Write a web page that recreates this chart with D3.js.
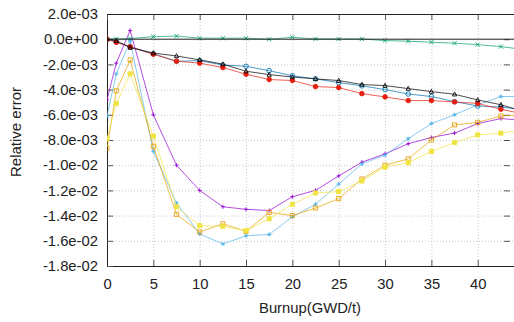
<!DOCTYPE html>
<html>
<head>
<meta charset="utf-8">
<script src="https://cdn.jsdelivr.net/npm/d3@7"></script>
<style>
  body { margin: 0; background: #fff; }
  svg { display: block; font-family: "Liberation Sans", Arial, sans-serif; }
  .grid line { stroke: #c8c8c8; stroke-dasharray: 1,2; }
</style>
</head>
<body>
<div id="chart"></div>
<script>
var burnup = [0, 1, 2.5, 5, 7.5, 10, 12.5, 15, 17.5, 20, 22.5, 25, 27.5, 30, 32.5, 35, 37.5, 40, 42.5, 45];

// values in units of 1e-3
var purple = [-4.8, -1.9, 0.7, -6.0, -10.0, -12.0, -13.3, -13.5, -13.6, -12.5, -12.0, -10.85, -9.76, -9.1, -8.3, -7.8, -7.45, -6.7, -6.3, -6.45];
var teal = [0, 0.02, 0.05, 0.2, 0.25, 0.08, 0.08, 0.08, 0, 0.15, 0.02, 0.02, 0.02, -0.11, -0.16, -0.24, -0.32, -0.43, -0.59, -0.82];
var skyblue = [-6.1, -2.75, -0.15, -8.9, -13.0, -15.45, -16.25, -15.6, -15.5, -14.1, -13.1, -11.5, -9.9, -9.2, -7.9, -6.7, -6.0, -5.2, -4.55, -4.55];
var orange = [-8.65, -4.1, -1.65, -8.5, -13.9, -15.3, -14.65, -15.25, -13.75, -14.0, -13.4, -12.65, -11.1, -10.0, -9.5, -8.0, -6.8, -6.6, -6.1, -6.0];
var yellow = [-7.9, -5.1, -2.75, -7.7, -13.3, -14.8, -14.85, -15.2, -14.25, -13.1, -12.2, -12.1, -11.25, -10.15, -9.8, -8.9, -8.2, -7.6, -7.45, -7.2];
var blue = [0, -0.2, -0.6, -1.15, -1.75, -1.7, -2.05, -2.15, -2.5, -2.9, -3.15, -3.45, -3.7, -4.0, -4.35, -4.55, -4.95, -5.3, -5.38, -5.6];
var red = [0, -0.25, -0.6, -1.2, -1.75, -1.9, -2.25, -2.78, -3.2, -3.28, -3.76, -3.84, -4.32, -4.58, -4.87, -4.87, -4.98, -5.1, -5.56, -5.95];
var black = [0, -0.12, -0.67, -1.1, -1.33, -1.64, -1.98, -2.54, -2.81, -3.0, -3.15, -3.28, -3.6, -3.68, -3.92, -4.16, -4.37, -4.82, -5.2, -5.75];

var xTicks = [0, 5, 10, 15, 20, 25, 30, 35, 40];
var yTicks = [0.002, 0, -0.002, -0.004, -0.006, -0.008, -0.01, -0.012, -0.014, -0.016, -0.018];

var series = [
  { vals: purple, color: "#9400d3", pt: "plus" },
  { vals: teal, color: "#009e73", pt: "cross" },
  { vals: skyblue, color: "#56b4e9", pt: "star" },
  { vals: orange, color: "#e69f00", pt: "osquare" },
  { vals: yellow, color: "#f0e442", pt: "fsquare" },
  { vals: blue, color: "#0072b2", pt: "ocircle" },
  { vals: red, color: "#e51e10", pt: "fcircle" },
  { vals: black, color: "#000000", pt: "otri" }
];

var width = 514, height = 322,
    pLeft = 107, pTop = 14, pRight = 514.8, pBottom = 266;

var svg = d3.select("#chart").append("svg")
    .attr("width", width)
    .attr("height", height);

var x = d3.scaleLinear().domain([0, 44]).range([pLeft, pRight]);
var y = d3.scaleLinear().domain([-0.018, 0.002]).range([pBottom, pTop]);

svg.append("clipPath").attr("id", "clip")
  .append("rect")
    .attr("x", pLeft).attr("y", pTop - 5)
    .attr("width", pRight - pLeft).attr("height", pBottom - pTop + 5);

// grid
svg.append("g")
    .attr("class", "grid")
    .attr("transform", "translate(0," + pBottom + ")")
    .call(d3.axisBottom(x).tickValues(xTicks).tickSize(-(pBottom - pTop)).tickFormat(""))
    .call(g => g.select(".domain").remove());

svg.append("g")
    .attr("class", "grid")
    .attr("transform", "translate(" + pLeft + ",0)")
    .call(d3.axisLeft(y).tickValues(yTicks).tickSize(-(width - pLeft)).tickFormat(""))
    .call(g => g.select(".domain").remove());

function fmt(v) {
  var s = v.toExponential(1);
  return s.replace(/e([+-])(\d)$/, "e$10$2");
}

// axes with inward ticks
var xAxis = svg.append("g")
    .attr("transform", "translate(0," + pBottom + ")")
    .call(d3.axisBottom(x).tickValues(xTicks).tickSizeInner(-6).tickSizeOuter(0).tickPadding(12));
var yAxis = svg.append("g")
    .attr("transform", "translate(" + pLeft + ",0)")
    .call(d3.axisLeft(y).tickValues(yTicks).tickSizeInner(-6).tickSizeOuter(0).tickPadding(9).tickFormat(fmt));

// mirrored ticks
svg.append("g")
    .attr("transform", "translate(0," + pTop + ")")
    .call(d3.axisTop(x).tickValues(xTicks).tickSizeInner(-6).tickSizeOuter(0).tickFormat(""))
    .call(g => g.select(".domain").remove());
svg.append("g")
    .attr("transform", "translate(" + (width - 4) + ",0)")
    .call(d3.axisRight(y).tickValues(yTicks.slice(1, -1)).tickSizeInner(-6).tickSizeOuter(0).tickFormat(""))
    .call(g => g.select(".domain").remove());

svg.selectAll(".tick line").filter(function () { return !this.closest(".grid"); })
    .attr("stroke", "#555");
svg.selectAll("text").attr("font-size", "14.8px").attr("fill", "#222");
yAxis.select(".domain").attr("stroke", "#222");
xAxis.select(".domain").attr("stroke", "#222");

// top border
svg.append("line")
    .attr("x1", pLeft).attr("x2", width)
    .attr("y1", pTop + 0.5).attr("y2", pTop + 0.5)
    .attr("stroke", "#222");

var plot = svg.append("g").attr("clip-path", "url(#clip)");

var line = d3.line()
    .x(function (d) { return x(d[0]); })
    .y(function (d) { return y(d[1] * 1e-3); });

function marker(type, r) {
  var s = r;
  switch (type) {
    case "plus": return "M" + -s + ",0H" + s + "M0," + -s + "V" + s;
    case "cross": return "M" + -s + "," + -s + "L" + s + "," + s + "M" + -s + "," + s + "L" + s + "," + -s;
    case "star": return "M" + -s + ",0H" + s + "M0," + -s + "V" + s +
      "M" + -s * 0.7 + "," + -s * 0.7 + "L" + s * 0.7 + "," + s * 0.7 +
      "M" + -s * 0.7 + "," + s * 0.7 + "L" + s * 0.7 + "," + -s * 0.7;
    case "osquare":
    case "fsquare": return "M" + -s + "," + -s + "H" + s + "V" + s + "H" + -s + "Z";
    case "ocircle":
    case "fcircle": return d3.symbol(d3.symbolCircle, Math.PI * s * s)();
    case "otri": return "M0," + (-s * 1.1) + "L" + s + "," + s * 0.8 + "L" + -s + "," + s * 0.8 + "Z";
  }
}

series.forEach(function (sr) {
  var pts = burnup.map(function (b, i) { return [b, sr.vals[i]]; });
  plot.append("path")
      .datum(pts)
      .attr("fill", "none")
      .attr("stroke", sr.color)
      .attr("stroke-opacity", 0.7)
      .attr("stroke-width", 1)
      .attr("d", line);
  var filled = sr.pt === "fsquare" || sr.pt === "fcircle";
  plot.selectAll(null)
      .data(pts)
      .enter().append("path")
      .attr("transform", function (d) { return "translate(" + x(d[0]) + "," + y(d[1] * 1e-3) + ")"; })
      .attr("d", marker(sr.pt, sr.pt === "fcircle" || sr.pt === "ocircle" ? 2.3 : 2.1))
      .attr("fill", filled ? sr.color : "none")
      .attr("stroke", sr.color)
      .attr("stroke-opacity", 0.85)
      .attr("stroke-width", 1);
});

// zero line
plot.append("line")
    .attr("x1", pLeft).attr("x2", width)
    .attr("y1", y(0)).attr("y2", y(0))
    .attr("stroke", "#222")
    .attr("stroke-width", 1);

svg.append("text")
    .attr("transform", "translate(" + 21 + "," + ((pTop + pBottom) / 2 - 8) + ") rotate(-90)")
    .attr("text-anchor", "middle")
    .attr("font-size", "15px")
    .attr("fill", "#222")
    .text("Relative error");

svg.append("text")
    .attr("x", 310)
    .attr("y", 313)
    .attr("text-anchor", "middle")
    .attr("font-size", "14.8px")
    .attr("fill", "#222")
    .text("Burnup(GWD/t)");
</script>
</body>
</html>
